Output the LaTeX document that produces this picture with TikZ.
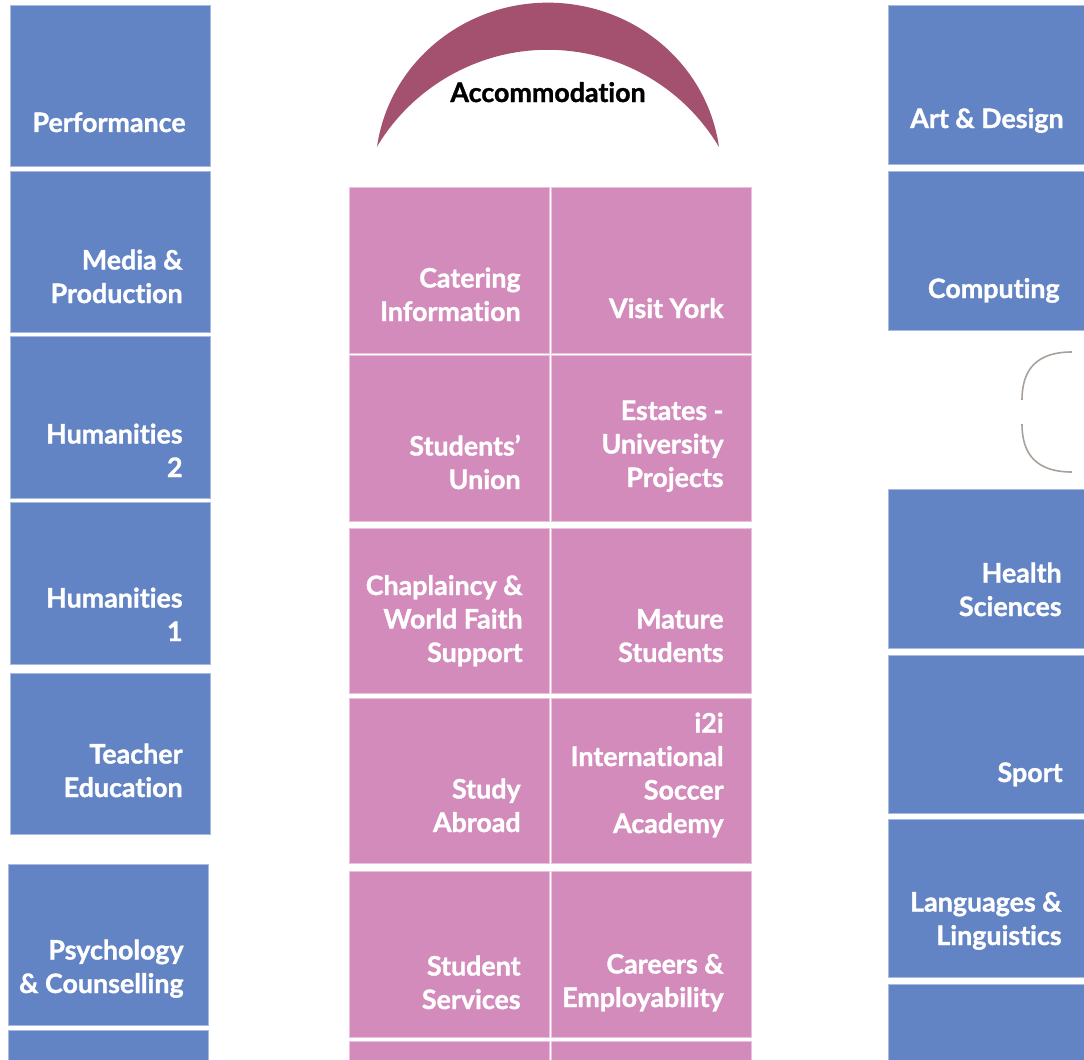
\documentclass[tikz,border=0pt]{standalone}
\usepackage{fontspec}
\setmainfont{Lato}[Ligatures=NoCommon, BoldFeatures={FakeBold=1.2}]
\usepackage{xcolor}
\usetikzlibrary{positioning}

\definecolor{deptblue}{HTML}{6384C4}
\definecolor{deptline}{HTML}{A9BBE0}
\definecolor{cellpink}{HTML}{D38BBB}
\definecolor{cellline}{HTML}{E9C1DB}
\definecolor{accom}{HTML}{A3516F}
\definecolor{bracketgrey}{HTML}{A9A19B}

\tikzstyle{dept} = [rectangle, fill=deptblue, draw=deptline, line width=0.4pt, minimum width=100pt, minimum height=80.5pt, inner sep=0pt]
\tikzstyle{cell} = [rectangle, fill=cellpink, draw=cellline, line width=0.4pt, minimum width=100pt, minimum height=83pt, inner sep=0pt]
\tikzstyle{lbl} = [text=white, font=\bfseries\fontsize{13.4}{16.75}\selectfont, align=right, inner sep=0pt, anchor=base east]

\begin{document}
\begin{tikzpicture}[x=0.5pt, y=-0.5pt]
    \useasboundingbox (0,0) rectangle (1084,1060);
    \fill[white] (0,0) rectangle (1084,1060);
    \clip (0,0) rectangle (1084,1060);

    % left column
    \node[dept] (perf) at (110,85.5) {};
    \node[dept] (media) at (110,251.5) {};
    \node[dept, minimum height=81pt] (hum2) at (110,417) {};
    \node[dept, minimum height=81pt] (hum1) at (110,583) {};
    \node[dept] (teach) at (110,753.5) {};
    \node[dept] (psych) at (108,944.5) {};
    \node[dept] (leftlast) at (108,1110.5) {};

    % labels sit on the baseline of their last line
    \node[lbl] (perftxt) at (186,132) {Performance};
    \node[lbl] (mediatxt) at (183,303) {Media \&\\Production};
    \node[lbl] (hum2txt) at (183,477) {Humanities\\2};
    \node[lbl] (hum1txt) at (183,641) {Humanities\\1};
    \node[lbl] (teachtxt) at (183,797) {Teacher\\Education};
    \node[lbl] (psychtxt) at (184,993) {Psychology\\\& Counselling};

    % right column
    \node[dept, minimum height=79.5pt] (art) at (988,84.5) {};
    \node[dept, minimum height=79.5pt] (comp) at (988,250.5) {};
    \node[dept, minimum height=79.5pt] (health) at (988,568.5) {};
    \node[dept, minimum height=79pt] (sport) at (988,734) {};
    \node[dept, minimum height=79pt] (lang) at (988,898) {};
    \node[dept, minimum height=79.5pt] (rightlast) at (988,1063.5) {};

    \node[lbl] (arttxt) at (1064,128) {Art \& Design};
    \node[lbl] (comptxt) at (1060,298) {Computing};
    \node[lbl] (healthtxt) at (1062,616) {Health\\Sciences};
    \node[lbl] (sporttxt) at (1063,782) {Sport};
    \node[lbl] (langtxt) at (1062,945) {Languages \&\\Linguistics};

    % services grid
    \node[cell] (cater) at (449,270) {};
    \node[cell] (visit) [right=1pt of cater] {};
    \node[cell] (union) at (449,438) {};
    \node[cell] (estates) [right=1pt of union] {};
    \node[cell, minimum height=82.5pt] (chapl) at (449,610.5) {};
    \node[cell, minimum height=82.5pt] (mature) [right=1pt of chapl] {};
    \node[cell, minimum height=82.5pt] (abroad) at (449,780.5) {};
    \node[cell, minimum height=82.5pt] (soccer) [right=1pt of abroad] {};
    \node[cell] (services) at (449,954) {};
    \node[cell] (careers) [right=1pt of services] {};
    \node[cell] (gridlastl) at (449,1124) {};
    \node[cell] (gridlastr) [right=1pt of gridlastl] {};

    \node[lbl] (catertxt) at (521,321) {Catering\\Information};
    \node[lbl] (visittxt) at (724,318) {Visit York};
    \node[lbl] (uniontxt) at (521,489) {Students’\\Union};
    \node[lbl] (estatestxt) at (724,487) {Estates -\\University\\Projects};
    \node[lbl] (chapltxt) at (523,662) {Chaplaincy \&\\World Faith\\Support};
    \node[lbl] (maturetxt) at (724,662) {Mature\\Students};
    \node[lbl] (abroadtxt) at (521,832) {Study\\Abroad};
    \node[lbl] (soccertxt) at (724,833) {i2i\\International\\Soccer\\Academy};
    \node[lbl] (servicestxt) at (521,1009) {Student\\Services};
    \node[lbl] (careerstxt) at (724,1007) {Careers \&\\Employability};

    % accommodation arch
    \fill[accom] (377,147) arc[start angle=172.2, end angle=7.8, x radius=86.3pt, y radius=83.5pt]
        arc[start angle=30.8, end angle=149.2, radius=99.6pt] -- cycle;
    \node[anchor=base, inner sep=0pt, font=\bfseries\fontsize{13.4}{16}\selectfont] (accomtxt) at (548,102) {Accommodation};

    % bracket
    \draw[bracketgrey, line width=0.8pt] (1072,352) .. controls (1036,352) and (1022,370) .. (1022,400);
    \draw[bracketgrey, line width=0.8pt] (1022,424) .. controls (1022,454) and (1036,472) .. (1072,472);
\end{tikzpicture}
\end{document}
